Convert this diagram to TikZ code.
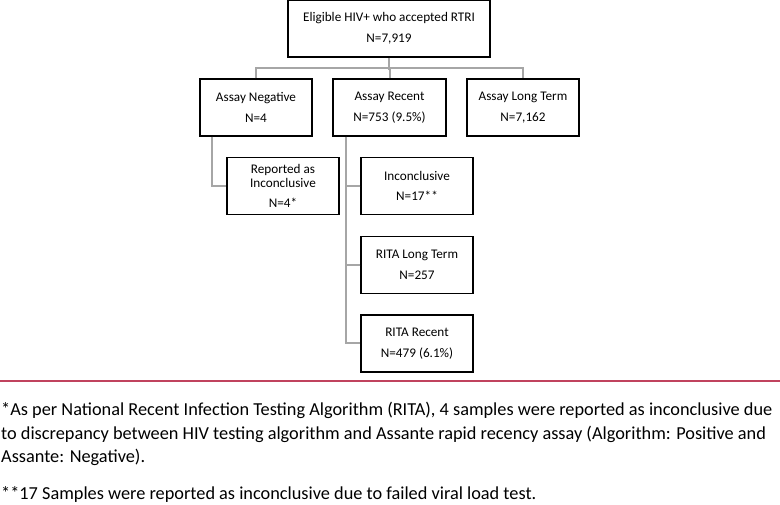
\documentclass[tikz,border=0pt]{standalone}
\usepackage{fontspec}
\setmainfont{Carlito}
\definecolor{linkgray}{HTML}{A6A6A6}
\definecolor{rulered}{HTML}{C0435E}
\tikzset{
	flowbox/.style = {draw=black, line width=1.3pt, align=center, inner sep=0pt, text centered, font=\fontsize{13.2}{20.5}\selectfont, minimum height=57pt},
	widebox/.style = {flowbox, minimum width=202pt},
	smallbox/.style = {flowbox, minimum width=112pt},
	link/.style = {draw=linkgray, line width=2pt},
	note/.style = {anchor=base west, inner sep=0pt, font=\fontsize{18.3}{23.3}\selectfont}
}

\begin{document}
\begin{tikzpicture}[x=1pt, y=-1pt]
		\useasboundingbox (0,0) rectangle (780,505);
		% boxes
		\node [widebox] (top) at (389,28.5) {Eligible HIV+ who accepted RTRI\\N=7,919};
		\node [smallbox] (neg) at (256,107.5) {Assay Negative\\N=4};
		\node [smallbox, minimum width=113pt] (rec) at (389.5,107.5) {Assay Recent\\N=753 (9.5\%)};
		\node [smallbox] (lng) at (523,107.5) {Assay Long Term\\N=7,162};
		\node [smallbox, font=\fontsize{13.2}{14}\selectfont] (rep) at (283,186) {Reported as\\Inconclusive\\[6pt]N=4*};
		\node [smallbox] (inc) at (417,186) {Inconclusive\\N=17**};
		\node [smallbox] (rlt) at (417,265) {RITA Long Term\\N=257};
		\node [smallbox] (rrc) at (417,343.5) {RITA Recent\\N=479 (6.1\%)};
		% connectors
		\draw [link] (top.south) -- ++(0,12);
		\draw [link] (neg.north) -- ++(0,-10) -| (lng.north);
		\draw [link] (rec.north) -- ++(0,-10);
		\coordinate (negdrop) at ([xshift=-44pt]neg.south);
		\draw [link] (negdrop) |- (rep.west);
		\coordinate (recdrop) at ([xshift=-43.5pt]rec.south);
		\draw [link] (recdrop) |- (rrc.west);
		\draw [link] (inc.west) -- (inc.west -| recdrop);
		\draw [link] (rlt.west) -- (rlt.west -| recdrop);
		% footnotes
		\draw [rulered, line width=1.2pt] (0,381) -- (780,381);
		\node [note] (fnone) at (1,415.7) {*As per National Recent Infection Testing Algorithm (RITA), 4 samples were reported as inconclusive due};
		\node [note] (fntwo) at (1,439) {to discrepancy between HIV testing algorithm and Assante rapid recency assay (Algorithm: Positive and};
		\node [note] (fnthree) at (1,462.3) {Assante: Negative).};
		\node [note] (fnfour) at (1,499) {**17 Samples were reported as inconclusive due to failed viral load test.};
\end{tikzpicture}
\end{document}
